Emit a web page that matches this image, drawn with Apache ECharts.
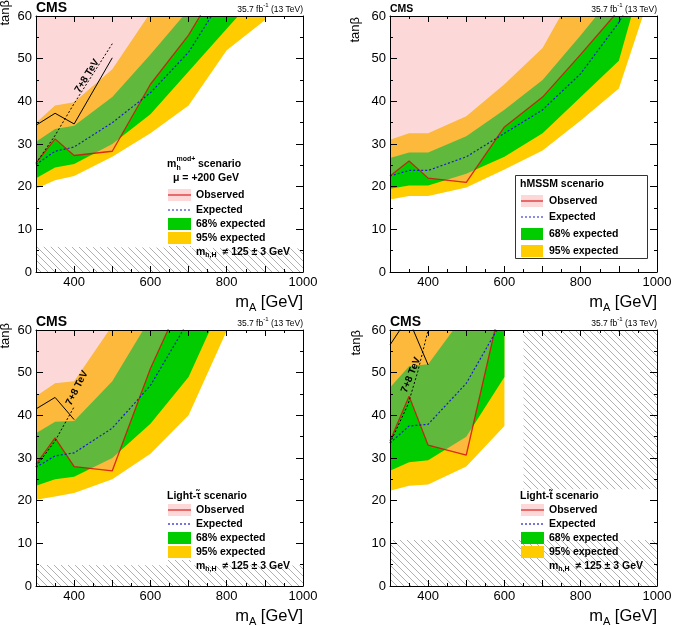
<!DOCTYPE html>
<html>
<head>
<meta charset="utf-8">
<script src="https://cdn.jsdelivr.net/npm/echarts@6/dist/echarts.min.js"></script>
<style>
html,body{margin:0;padding:0;background:#fff;}
#main{width:676px;height:626px;}
</style>
</head>
<body>
<div id="main"></div>
<script>
// x tick labels shown (ticks every 100 from 300)
var xLabels = [400, 600, 800, 1000];

// ---- mh^mod+ scenario (top left)
var mod_obs   = [[300,25.5],[350,31.2],[400,27.3],[500,28.3],[600,44],[700,55.5],[730,60],[740,62]];
var mod_exp   = [[300,25.2],[350,28.3],[400,29.3],[500,35],[600,42],[700,51.5],[760,60],[770,62]];
var mod_g_up  = [[300,30.5],[350,33.5],[400,34.3],[500,41],[600,51],[686,60],[700,62]];
var mod_g_lo  = [[300,22],[350,24.5],[400,25.3],[500,30],[600,37],[700,47],[800,57],[830,60],[840,62]];
var mod_y_up  = [[300,35],[350,39],[400,39.8],[500,47.5],[594,60],[600,61]];
var mod_y_lo  = [[300,19.5],[350,21.5],[400,22.5],[500,27],[600,32.5],[700,39],[800,52],[900,59],[910,62]];
var mod_old   = [[300,34.4],[350,37.2],[400,34.7],[500,50.2]];
var mod_old_e = [[300,25.5],[350,32],[400,39.5],[500,53.5]];
var mod_hatch = [[300,0],[300,5.9],[1000,5.5],[1000,0]];

// ---- hMSSM scenario (top right)
var hm_obs  = [[300,22.5],[350,26],[400,22],[500,21],[600,34],[700,41],[800,51],[887,60],[900,62]];
var hm_exp  = [[300,22.5],[350,23.8],[400,23.8],[500,27],[600,32.5],[700,38],[800,46.5],[900,58.5],[910,60],[915,62]];
var hm_g_up = [[300,26.7],[350,28],[400,28],[500,31.8],[600,38],[700,45],[800,55.5],[841,60],[850,62]];
var hm_g_lo = [[300,19.5],[350,20.3],[400,20.3],[500,23],[600,27],[700,32.5],[800,41],[900,49.5],[933,60],[940,62]];
var hm_y_up = [[300,31],[350,32.5],[400,32.5],[500,36.5],[600,44],[700,52.5],[747,60],[760,62]];
var hm_y_lo = [[300,17],[350,17.8],[400,17.8],[500,19.8],[600,24],[700,28.5],[800,35.5],[900,43],[963,60],[970,62]];

// ---- light-stau scenario (bottom left)
var lst_obs   = [[300,28.5],[350,34.7],[400,28],[500,27],[600,51],[646,60],[650,62]];
var lst_exp   = [[300,27.8],[350,30.5],[400,31.2],[500,37],[600,47],[686,60],[690,62]];
var lst_g_up  = [[300,35.8],[350,38.5],[400,38.7],[500,48],[581,60],[590,62]];
var lst_g_lo  = [[300,23.5],[350,25],[400,25.6],[500,30],[600,38],[700,49],[756,60],[760,62]];
var lst_y_up  = [[300,44.5],[350,47.5],[400,48],[492,60],[500,62]];
var lst_y_lo  = [[300,20.2],[350,21],[400,21.8],[500,25],[600,31],[700,40],[801,60],[805,62]];
var lst_old   = [[300,41.5],[350,44.2],[400,39]];
var lst_old_e = [[300,28],[350,34],[400,42]];
var lst_hatch = [[300,0],[300,4.9],[1000,4.8],[1000,0]];

// ---- light-stop scenario (bottom right)
var lsp_obs    = [[300,34],[350,44.5],[400,33],[500,30.7],[575,60],[580,62]];
var lsp_exp    = [[300,33.5],[350,37.5],[400,37.9],[500,47.5],[580,60],[585,62]];
var lsp_g_up   = [[300,46.5],[350,51.5],[400,52],[466,60],[600,64]];
var lsp_g_lo   = [[300,27],[350,29],[400,29.5],[500,35],[600,49]];
var lsp_y_up   = [[300,64],[600,64]];
var lsp_y_lo   = [[300,22.3],[350,23.5],[400,23.8],[500,28],[600,37.5]];
var lsp_old_a  = [[300,56.5],[326,60],[330,61]];
var lsp_old_b  = [[358,61],[361,60],[400,51.8]];
var lsp_old_e  = [[300,33.5],[347,42.5],[373,50.3],[400,60]];
var lsp_hatch1 = [[300,0],[300,10.8],[1000,10.8],[1000,0]];
var lsp_hatch2 = [[650,60],[650,22.7],[1000,22.7],[1000,60]];

var GREEN = '#00cc00', YELLOW = '#ffcc00';
var PINK = 'rgba(246,154,154,0.39)';
var RED = 'rgba(215,15,15,0.85)';
var BLUE = '#1a1ad0';
var FONT = 'Liberation Sans';

function makeHatch(){
    var c = document.createElement('canvas');
    c.width = 7; c.height = 7;
    var g = c.getContext('2d');
    g.strokeStyle = '#a8a8a8';
    g.lineWidth = 0.9;
    g.beginPath();
    g.moveTo(-1,-1); g.lineTo(8,8);
    g.moveTo(-1,6); g.lineTo(1,8);
    g.moveTo(6,-1); g.lineTo(8,1);
    g.stroke();
    return c;
}
var HATCH = {image: makeHatch(), repeat: 'repeat'};

var GRIDPOS = [[36,16],[390,16],[36,330],[390,330]];
var W = 267, H = 256;

var grids = [], xAxes = [], yAxes = [], series = [], graphics = [];

function tickOpts(len){ return {show:true, inside:true, length:len, lineStyle:{color:'#000', width:1}}; }
function minorOpts(){ return {show:true, splitNumber:2, length:3, lineStyle:{color:'#000', width:1}}; }
function lineOpts(){ return {show:true, onZero:false, lineStyle:{color:'#000', width:1}}; }

function addAxes(p){
    grids.push({left:GRIDPOS[p][0], top:GRIDPOS[p][1], width:W, height:H, containLabel:false, outerBoundsMode:'none'});
    xAxes.push({type:'value', gridIndex:p, position:'bottom', min:300, max:1000, interval:100, z:8,
        axisLine:lineOpts(), axisTick:tickOpts(6), minorTick:minorOpts(), splitLine:{show:false}, minorSplitLine:{show:false},
        axisLabel:{show:true, margin:4, fontSize:13, color:'#000', fontFamily:FONT,
            formatter:function(v){ return xLabels.indexOf(v) >= 0 ? String(v) : ''; }}});
    xAxes.push({type:'value', gridIndex:p, position:'top', min:300, max:1000, interval:100, z:8,
        axisLine:lineOpts(), axisTick:tickOpts(6), minorTick:minorOpts(), splitLine:{show:false}, axisLabel:{show:false}});
    yAxes.push({type:'value', gridIndex:p, position:'left', min:0, max:60, interval:10, z:8,
        axisLine:lineOpts(), axisTick:tickOpts(7), minorTick:minorOpts(), splitLine:{show:false}, minorSplitLine:{show:false},
        axisLabel:{show:true, margin:4, fontSize:13, color:'#000', fontFamily:FONT}});
    yAxes.push({type:'value', gridIndex:p, position:'right', min:0, max:60, interval:10, z:8,
        axisLine:lineOpts(), axisTick:tickOpts(7), minorTick:minorOpts(), splitLine:{show:false}, axisLabel:{show:false}});
}

function poly(p, pts, fill, z){
    series.push({type:'custom', xAxisIndex:2*p, yAxisIndex:2*p, clip:true, silent:true, z:z,
        data:[[300,0]],
        renderItem:function(params, api){
            return {type:'polygon', shape:{points:pts.map(function(d){ return api.coord(d); })},
                style:{fill:fill, stroke:null}};
        }});
}

function band(p, up, lo, fill, z){
    poly(p, up.concat(lo.slice().reverse()), fill, z);
}

function excluded(p, obs){
    var last = obs[obs.length-1][0];
    poly(p, obs.concat([[last,80],[300,80]]), PINK, 3);
}

function line(p, data, color, type, width){
    series.push({type:'line', xAxisIndex:2*p, yAxisIndex:2*p, data:data, symbol:'none', showSymbol:false,
        clip:true, silent:true, z:6, lineStyle:{color:color, type:type, width:width}});
}

function txt(x, y, s, size, opts){
    opts = opts || {};
    var el = {type:'text', x:x, y:y, z:60, rotation:opts.rot || 0,
        style:{text:s, x:0, y:0, fontSize:size, fontWeight:opts.bold ? 'bold' : 'normal', fontFamily:FONT,
            fill:opts.color || '#000', align:opts.align || 'left', verticalAlign:opts.valign || 'middle',
            textAlign:opts.align || 'left', textVerticalAlign:opts.valign || 'middle'}};
    if (opts.rich) el.style.rich = opts.rich;
    graphics.push(el);
}

// panel frame texts: CMS, lumi, axis title
function frameTexts(p, cmsSize){
    var x0 = GRIDPOS[p][0], y0 = GRIDPOS[p][1];
    txt(x0, y0 - 1, 'CMS', cmsSize, {bold:true, valign:'bottom'});
    txt(x0 + W, y0 - 2, '{a|35.7 fb}{s|-1}{a| (13 TeV)}', 8.5, {align:'right', valign:'bottom',
        rich:{a:{fontSize:8.5, fontFamily:FONT, lineHeight:12, verticalAlign:'bottom'},
              s:{fontSize:6, fontFamily:FONT, lineHeight:6, verticalAlign:'top'}}});
    txt(x0 + W, y0 + H + 30, '{a|m}{s|A}{a| [GeV]}', 16, {align:'right',
        rich:{a:{fontSize:16.5, fontFamily:FONT, lineHeight:22},
              s:{fontSize:11, fontFamily:FONT, lineHeight:11, verticalAlign:'bottom'}}});
}

function legend(sx, sw, tx, rows, hatch){
    var bh = 12;
    graphics.push({type:'rect', z:55, shape:{x:sx, y:rows[0]-bh/2, width:sw, height:bh}, style:{fill:PINK}});
    graphics.push({type:'line', z:56, shape:{x1:sx, y1:rows[0], x2:sx+sw, y2:rows[0]}, style:{stroke:RED, lineWidth:1.3}});
    txt(tx, rows[0], 'Observed', 10.5, {bold:true});
    graphics.push({type:'line', z:56, shape:{x1:sx, y1:rows[1], x2:sx+sw, y2:rows[1]}, style:{stroke:BLUE, lineWidth:1.2, lineDash:[2,2]}});
    txt(tx, rows[1], 'Expected', 10.5, {bold:true});
    graphics.push({type:'rect', z:55, shape:{x:sx, y:rows[2]-bh/2, width:sw, height:bh}, style:{fill:GREEN}});
    txt(tx, rows[2], '68% expected', 10.5, {bold:true});
    graphics.push({type:'rect', z:55, shape:{x:sx, y:rows[3]-bh/2, width:sw, height:bh}, style:{fill:YELLOW}});
    txt(tx, rows[3], '95% expected', 10.5, {bold:true});
    if (hatch){
        graphics.push({type:'rect', z:55, shape:{x:sx, y:rows[4]-bh/2, width:sw, height:bh}, style:{fill:HATCH}});
        txt(tx, rows[4], '{m|m}{s|h,H}{t|  \u2260 125 \u00b1 3 GeV}', 10.5, {
            rich:{m:{fontSize:10.5, fontWeight:'bold', fontFamily:FONT, lineHeight:14},
                  s:{fontSize:7, fontWeight:'bold', fontFamily:FONT, lineHeight:7, verticalAlign:'bottom'},
                  t:{fontSize:10.5, fontWeight:'bold', fontFamily:FONT, lineHeight:14}}});
    }
}

for (var p = 0; p < 4; p++) addAxes(p);

// top left
band(0, mod_y_up, mod_y_lo, YELLOW, 1);
band(0, mod_g_up, mod_g_lo, GREEN, 2);
excluded(0, mod_obs);
poly(0, mod_hatch, HATCH, 4);
line(0, mod_obs, RED, 'solid', 1.3);
line(0, mod_exp, BLUE, [2,2], 1.2);
line(0, mod_old, '#000', 'solid', 1);
line(0, mod_old_e, '#000', [2,2], 1);

// top right
band(1, hm_y_up, hm_y_lo, YELLOW, 1);
band(1, hm_g_up, hm_g_lo, GREEN, 2);
excluded(1, hm_obs);
line(1, hm_obs, RED, 'solid', 1.3);
line(1, hm_exp, BLUE, [2,2], 1.2);

// bottom left
band(2, lst_y_up, lst_y_lo, YELLOW, 1);
band(2, lst_g_up, lst_g_lo, GREEN, 2);
excluded(2, lst_obs);
poly(2, lst_hatch, HATCH, 4);
line(2, lst_obs, RED, 'solid', 1.3);
line(2, lst_exp, BLUE, [2,2], 1.2);
line(2, lst_old, '#000', 'solid', 1);
line(2, lst_old_e, '#000', [2,2], 1);

// bottom right
band(3, lsp_y_up, lsp_y_lo, YELLOW, 1);
band(3, lsp_g_up, lsp_g_lo, GREEN, 2);
excluded(3, lsp_obs);
poly(3, lsp_hatch1, HATCH, 4);
poly(3, lsp_hatch2, HATCH, 4);
line(3, lsp_obs, RED, 'solid', 1.3);
line(3, lsp_exp, BLUE, [2,2], 1.2);
line(3, lsp_old_a, '#000', 'solid', 1);
line(3, lsp_old_b, '#000', 'solid', 1);
line(3, lsp_old_e, '#000', [2,2], 1);

// frame texts
frameTexts(0, 14);
frameTexts(1, 10.5);
frameTexts(2, 14);
frameTexts(3, 14);
txt(5, 0, 'tan\u03b2', 13, {rot:Math.PI/2, align:'right'});
txt(355, 17, 'tan\u03b2', 13, {rot:Math.PI/2, align:'right'});
txt(5, 323, 'tan\u03b2', 13, {rot:Math.PI/2, align:'right'});
txt(356, 330, 'tan\u03b2', 13, {rot:Math.PI/2, align:'right'});

// 7+8 TeV labels
txt(87, 76, '7+8 TeV', 10, {bold:true, align:'center', rot:58*Math.PI/180});
txt(77, 388, '7+8 TeV', 10, {bold:true, align:'center', rot:63*Math.PI/180});
txt(411, 375, '7+8 TeV', 10, {bold:true, align:'center', rot:68*Math.PI/180});

// legends
txt(167, 164, 'm', 10.5, {bold:true});
txt(176.5, 168, 'h', 7, {bold:true});
txt(176.5, 159, 'mod+', 7, {bold:true});
txt(198, 164, 'scenario', 10.5, {bold:true});
txt(173, 178, '\u03bc = +200 GeV', 10.5, {bold:true});
legend(168, 23, 196, [195, 210, 224, 238, 252], true);

graphics.push({type:'rect', z:50, shape:{x:515.5, y:175.5, width:132, height:83}, style:{fill:'#fff', stroke:'#333', lineWidth:1}});
txt(520, 184, 'hMSSM scenario', 10.5, {bold:true});
legend(521, 22, 549, [201, 217, 234, 251], false);

txt(167, 496, 'Light-\u03c4\u0303 scenario', 10.5, {bold:true});
legend(168, 23, 196, [510, 524, 538, 552, 566], true);

txt(520, 496, 'Light-t\u0303 scenario', 10.5, {bold:true});
legend(521, 23, 549, [510, 524, 538, 552, 566], true);

var chart = echarts.init(document.getElementById('main'));
chart.setOption({
    animation:false,
    grid:grids,
    xAxis:xAxes,
    yAxis:yAxes,
    series:series,
    graphic:{elements:graphics}
});
</script>
</body>
</html>
